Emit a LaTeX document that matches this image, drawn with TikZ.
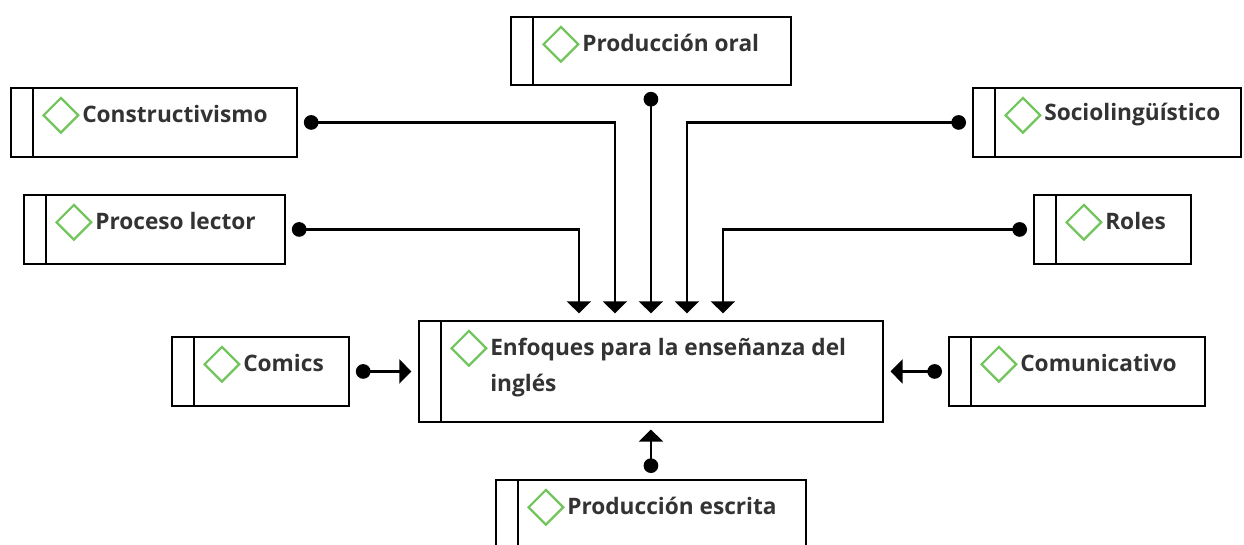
\documentclass[tikz,border=0pt]{standalone}
\usepackage{fontspec}
\setmainfont{Open Sans}
\usetikzlibrary{arrows.meta}
\definecolor{dmgreen}{HTML}{72C45C}
\definecolor{txtgray}{HTML}{333333}
\begin{document}
\begin{tikzpicture}[x=0.75pt,y=-0.75pt,
		box/.style={draw,line width=1.4pt,rectangle,anchor=north west,inner sep=0pt,
			path picture={
				\draw[line width=1.4pt] ([xshift=16.5pt]path picture bounding box.north west) -- ([xshift=16.5pt]path picture bounding box.south west);
				\draw[dmgreen,line width=1.7pt] ([xshift=37.5pt,yshift=-7.5pt]path picture bounding box.north west) -- ++(13pt,-13pt) -- ++(-13pt,-13pt) -- ++(-13pt,13pt) -- cycle;
			}},
		txt/.style={anchor=west,inner sep=0pt,text=txtgray,font=\fontsize{17pt}{27pt}\selectfont\bfseries,align=left},
		link/.style={line width=1.6pt,{Circle[length=11pt]}-{Triangle[width=18pt,length=9pt]},shorten <=4.5pt,shorten >=5pt}]
	\useasboundingbox (0,0) rectangle (1244,544);
	\foreach \nm/\x/\y/\w/\h/\lbl in {oral/510/16/280/68/Producción oral,cons/10/87/286/69/Constructivismo,socio/972/87/268/69/Sociolingüístico,lector/23/194/261/69/Proceso lector,roles/1033/194/157/69/Roles,comics/171/336/177/69/Comics,comun/948/336/256/69/Comunicativo,escr/495/479/310/80/Producción escrita}{
		\node[box,minimum width=\w*0.75pt,minimum height=\h*0.75pt] (\nm) at (\x,\y) {};
		\node[txt] (t-\nm) at ([xshift=54pt,yshift=-20.5pt]\nm.north west) {\lbl};
	}
	\node[box,minimum width=348pt,minimum height=75.75pt] (central) at (418,320) {};
	\node[txt,anchor=north west] (t-central) at ([xshift=54pt,yshift=-13.5pt]central.north west) {Enfoques para la enseñanza del\\inglés};
	\draw[link] (lector.east) -| ([xshift=-54pt]central.north);
	\draw[link] (cons.east) -| ([xshift=-27pt]central.north);
	\draw[link] (oral.south) -- (central.north);
	\draw[link] (socio.west) -| ([xshift=27pt]central.north);
	\draw[link] (roles.west) -| ([xshift=54pt]central.north);
	\draw[link] (comics.east) -- (central.west |- comics.east);
	\draw[link] (comun.west) -- (central.east |- comun.west);
	\draw[link] (escr.north) -- (central.south);
\end{tikzpicture}
\end{document}
